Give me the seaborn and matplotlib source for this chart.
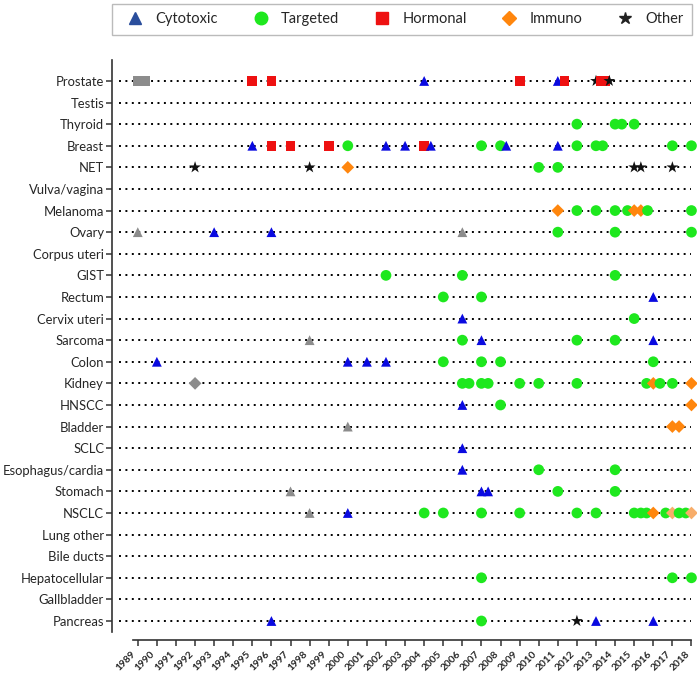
import matplotlib
matplotlib.use("Agg")
import matplotlib.pyplot as plt
from matplotlib.lines import Line2D
import seaborn as sns
import pandas as pd

cancers = ["Prostate", "Testis", "Thyroid", "Breast", "NET", "Vulva/vagina", "Melanoma",
           "Ovary", "Corpus uteri", "GIST", "Rectum", "Cervix uteri", "Sarcoma", "Colon",
           "Kidney", "HNSCC", "Bladder", "SCLC", "Esophagus/cardia", "Stomach", "NSCLC",
           "Lung other", "Bile ducts", "Hepatocellular", "Gallbladder", "Pancreas"]
years = list(range(1989, 2019))

# approvals per drug class: (cancer, year); fractions are just side-by-side marks
cytotoxic = [("Prostate", 2004), ("Prostate", 2011), ("Breast", 1995), ("Breast", 2002),
             ("Breast", 2003), ("Breast", 2004.35), ("Breast", 2008.3), ("Breast", 2011),
             ("Ovary", 1993), ("Ovary", 1996), ("Rectum", 2016), ("Cervix uteri", 2006),
             ("Sarcoma", 2007), ("Sarcoma", 2016), ("Colon", 1990), ("Colon", 2000),
             ("Colon", 2001), ("Colon", 2002), ("HNSCC", 2006), ("SCLC", 2006),
             ("Esophagus/cardia", 2006), ("Stomach", 2007), ("Stomach", 2007.35),
             ("NSCLC", 2000), ("Pancreas", 1996), ("Pancreas", 2013), ("Pancreas", 2016)]
targeted = [("Thyroid", 2012), ("Thyroid", 2014), ("Thyroid", 2014.35), ("Thyroid", 2015),
            ("Breast", 2000), ("Breast", 2007), ("Breast", 2008), ("Breast", 2012),
            ("Breast", 2013), ("Breast", 2013.35), ("Breast", 2017), ("Breast", 2018),
            ("NET", 2010), ("NET", 2011), ("Melanoma", 2012), ("Melanoma", 2013),
            ("Melanoma", 2014), ("Melanoma", 2014.65), ("Melanoma", 2015.7), ("Melanoma", 2018),
            ("Ovary", 2011), ("Ovary", 2014), ("Ovary", 2018), ("GIST", 2002), ("GIST", 2006),
            ("GIST", 2014), ("Rectum", 2005), ("Rectum", 2007), ("Cervix uteri", 2015),
            ("Sarcoma", 2006), ("Sarcoma", 2012), ("Sarcoma", 2014), ("Colon", 2005),
            ("Colon", 2007), ("Colon", 2008), ("Colon", 2016), ("Kidney", 2006),
            ("Kidney", 2006.35), ("Kidney", 2007), ("Kidney", 2007.35), ("Kidney", 2009),
            ("Kidney", 2010), ("Kidney", 2012), ("Kidney", 2015.65), ("Kidney", 2016.35),
            ("Kidney", 2017), ("HNSCC", 2008), ("Esophagus/cardia", 2010),
            ("Esophagus/cardia", 2014), ("Stomach", 2011), ("Stomach", 2014),
            ("NSCLC", 2004), ("NSCLC", 2005), ("NSCLC", 2007), ("NSCLC", 2009),
            ("NSCLC", 2012), ("NSCLC", 2013), ("NSCLC", 2015), ("NSCLC", 2015.35),
            ("NSCLC", 2015.65), ("NSCLC", 2016.65), ("NSCLC", 2017.35), ("NSCLC", 2017.7),
            ("Hepatocellular", 2007), ("Hepatocellular", 2017), ("Hepatocellular", 2018),
            ("Pancreas", 2007)]
hormonal = [("Prostate", 1995), ("Prostate", 1996), ("Prostate", 2009), ("Prostate", 2011.35),
            ("Prostate", 2013.25), ("Prostate", 2013.45), ("Breast", 1996), ("Breast", 1997),
            ("Breast", 1999), ("Breast", 2004)]
immuno = [("NET", 2000), ("Melanoma", 2011), ("Melanoma", 2015), ("Melanoma", 2015.35),
          ("Kidney", 2016), ("Kidney", 2018), ("HNSCC", 2018), ("Bladder", 2017),
          ("Bladder", 2017.35), ("NSCLC", 2016)]
immuno_light = [("NSCLC", 2017), ("NSCLC", 2018)]
other = [("Prostate", 2013), ("Prostate", 2013.7), ("NET", 1992), ("NET", 1998),
         ("NET", 2015), ("NET", 2015.35), ("NET", 2017), ("Pancreas", 2012)]
# grey marks
cytotoxic_grey = [("Ovary", 1989), ("Ovary", 2006), ("Sarcoma", 1998), ("Bladder", 2000),
                  ("Stomach", 1997), ("NSCLC", 1998)]
hormonal_grey = [("Prostate", 1989), ("Prostate", 1989.4)]
immuno_grey = [("Kidney", 1992)]

groups = {"cyto": cytotoxic, "targ": targeted, "horm": hormonal, "immu": immuno,
          "immu_l": immuno_light, "other": other, "cyto_g": cytotoxic_grey,
          "horm_g": hormonal_grey, "immu_g": immuno_grey}
rows = []
for g, pts in groups.items():
    for c, yr in pts:
        rows.append({"cancer": c, "pos": cancers.index(c), "year": yr, "group": g})
df = pd.DataFrame(rows).sort_values("year").reset_index(drop=True)

palette = {"cyto": "#0a0ae0", "targ": "#1ee81e", "horm": "#ee1111", "immu": "#ff860d",
           "immu_l": "#f7ad6a", "other": "#111111", "cyto_g": "#8c8c8c",
           "horm_g": "#8c8c8c", "immu_g": "#8c8c8c"}
markers = {"cyto": "^", "targ": "o", "horm": "s", "immu": "D", "immu_l": "D",
           "other": "*", "cyto_g": "^", "horm_g": "s", "immu_g": "D"}
sizes = {"cyto": 50, "targ": 60, "horm": 50, "immu": 42, "immu_l": 42,
         "other": 80, "cyto_g": 50, "horm_g": 50, "immu_g": 42}

sns.set_style("white")
plt.rcParams["font.family"] = ["Lato", "DejaVu Sans"]

fig = plt.figure(figsize=(6.97, 6.73), dpi=100)
ax = fig.add_axes([112 / 697, 1 - 640 / 673, 1 - 112 / 697, (640 - 60) / 673])

ax.hlines(range(len(cancers)), 1988.02, 2018, colors="black",
          linestyles=(0, (1, 2.3)), linewidth=1.4, zorder=1)

sns.scatterplot(data=df, x="year", y="pos", hue="group", style="group", size="group",
                palette=palette, markers=markers, sizes=sizes, linewidth=0,
                legend=False, ax=ax, zorder=3)

ax.set_xlim(1987.65, 2018.29)
ax.set_ylim(25.88, -0.97)
ax.set_yticks(range(len(cancers)))
ax.set_yticklabels(cancers, fontsize=9.4)
ax.set_xticks(years)
ax.set_xticklabels([str(y) for y in years], rotation=45, ha="right",
                   fontsize=7.3, fontweight="bold")
ax.set_xlabel("")
ax.set_ylabel("")

for side in ["top", "right"]:
    ax.spines[side].set_visible(False)
ax.spines["left"].set_bounds(25.51, -0.97)
ax.spines["bottom"].set_bounds(1988.75, 2018)
for side in ["left", "bottom"]:
    ax.spines[side].set_linewidth(1.2)
    ax.spines[side].set_color("#333333")
ax.tick_params(axis="both", direction="out", length=4.5, width=1.1,
               color="#333333", pad=1.2)
ax.tick_params(axis="y", left=True)
ax.tick_params(axis="x", bottom=True, pad=2.5)

handles = [
    Line2D([], [], marker="^", color="#2a4e9c", ls="", markersize=8),
    Line2D([], [], marker="o", color="#1ee81e", ls="", markersize=9),
    Line2D([], [], marker="s", color="#ee1111", ls="", markersize=8),
    Line2D([], [], marker="D", color="#ff860d", ls="", markersize=7),
    Line2D([], [], marker="*", color="#222222", ls="", markersize=9),
]
labels = ["Cytotoxic", "Targeted", "Hormonal", "Immuno", "Other"]
leg = fig.legend(handles, labels, ncol=5, mode="expand", loc="lower left",
                 bbox_to_anchor=(112 / 697, 1 - 35 / 673, 580 / 697, 34 / 673),
                 borderaxespad=0, frameon=True, fancybox=False, fontsize=10.5,
                 handletextpad=0.4, borderpad=0.6)
leg.get_frame().set_edgecolor("#aaaaaa")
leg.get_frame().set_linewidth(1.0)

fig.savefig("out.png", dpi=100)
